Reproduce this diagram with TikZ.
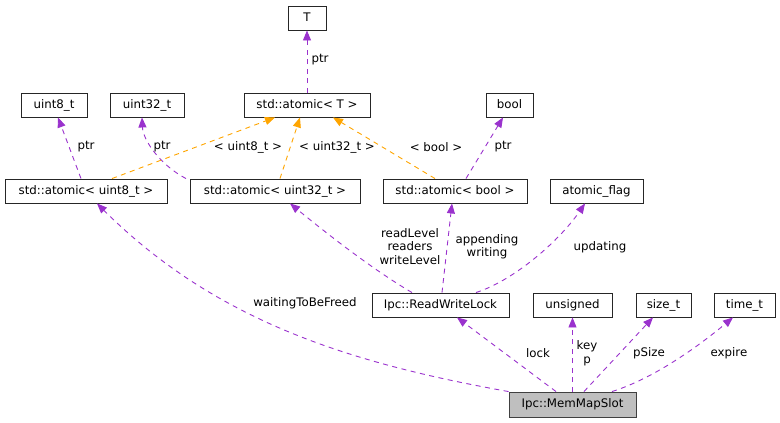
\documentclass[tikz,border=0pt]{standalone}
\usepackage{fontspec}
\setmainfont{DejaVu Sans}
\usetikzlibrary{arrows.meta}
\definecolor{rel}{HTML}{9A32CD}
\definecolor{tmpl}{HTML}{FFA500}
\begin{document}
\begin{tikzpicture}[x=1pt,y=-1pt,
  every node/.style={font=\fontsize{11.8}{13.5}\selectfont},
  box/.style={draw=black!85, line width=0.9pt, rectangle, inner sep=0pt, minimum height=24pt, text height=8.5pt, text depth=2.5pt},
  lbl/.style={inner sep=0pt, align=center},
  relarr/.style={draw=rel, line width=0.9pt, dash pattern=on 5pt off 4.5pt, -{Triangle[length=10pt,width=8pt,fill=rel]}},
  tmparr/.style={draw=tmpl, line width=0.9pt, dash pattern=on 5pt off 4.5pt, -{Triangle[length=10pt,width=8pt,fill=tmpl]}}]
\useasboundingbox (0,0) rectangle (780,423);
% nodes
\node[box, minimum width=38pt] (T) at (307,18) {T};
\node[box, minimum width=126pt] (atomT) at (307,105) {std::atomic< T >};
\node[box, minimum width=66pt] (u8) at (54,105) {uint8\_t};
\node[box, minimum width=74pt] (u32) at (147,105) {uint32\_t};
\node[box, minimum width=47pt] (bool) at (509.5,105) {bool};
\node[box, minimum width=162pt] (atomU8) at (86,191) {std::atomic< uint8\_t >};
\node[box, minimum width=170pt] (atomU32) at (275,191) {std::atomic< uint32\_t >};
\node[box, minimum width=144pt] (atomBool) at (455,191) {std::atomic< bool >};
\node[box, minimum width=93pt] (flag) at (596.5,191) {atomic\_flag};
\node[box, minimum width=137pt] (rwl) at (440.5,305) {Ipc::ReadWriteLock};
\node[box, minimum width=79pt] (uns) at (572.5,305) {unsigned};
\node[box, minimum width=55pt] (sizet) at (663.5,305) {size\_t};
\node[box, minimum width=61pt] (timet) at (744.5,305) {time\_t};
\node[box, minimum width=127pt, minimum height=25pt, fill=black!25, draw=black!75] (slot) at (572.5,404.5) {Ipc::MemMapSlot};
% connectors
\draw[relarr] (atomT.north) -- (T.south);
\draw[relarr] ([xshift=-5pt]atomU8.north) -- ([xshift=4pt]u8.south);
\draw[relarr] ([xshift=-89pt]atomU32.north) .. controls (160,165) and (143,140) .. ([xshift=-5pt]u32.south);
\draw[tmparr] ([xshift=26pt]atomU8.north) -- ([xshift=-32pt]atomT.south);
\draw[tmparr] ([xshift=5pt]atomU32.north) -- ([xshift=-7pt]atomT.south);
\draw[tmparr] ([xshift=-20pt]atomBool.north) -- ([xshift=26pt]atomT.south);
\draw[relarr] ([xshift=11pt]atomBool.north) -- ([xshift=-6.5pt]bool.south);
\draw[relarr] ([xshift=-28.5pt]rwl.north) .. controls (370,268) and (320,228) .. ([xshift=15pt]atomU32.south);
\draw[relarr] ([xshift=1.5pt]rwl.north) -- ([xshift=-3pt]atomBool.south);
\draw[relarr] ([xshift=35.5pt]rwl.north) .. controls (515,280) and (560,240) .. ([xshift=-11.5pt]flag.south);
\draw[relarr] (slot.north west) .. controls (355,364) and (217,323) .. ([xshift=11pt]atomU8.south);
\draw[relarr] ([xshift=-16.5pt]slot.north) -- ([xshift=16.5pt]rwl.south);
\draw[relarr] (slot.north) -- (uns.south);
\draw[relarr] ([xshift=11.5pt]slot.north) -- ([xshift=-10.5pt]sizet.south);
\draw[relarr] ([xshift=39.5pt]slot.north) .. controls (655,378) and (700,345) .. ([xshift=-11.5pt]timet.south);
% labels
\node[lbl] (l1) at (320,60) {ptr};
\node[lbl] (l2) at (86,147) {ptr};
\node[lbl] (l3) at (162,147) {ptr};
\node[lbl] (l4) at (248,147) {< uint8\_t >};
\node[lbl] (l5) at (337,147) {< uint32\_t >};
\node[lbl] (l6) at (436,147) {< bool >};
\node[lbl] (l7) at (503,147) {ptr};
\node[lbl] (l8) at (410,246.5) {readLevel\\readers\\writeLevel};
\node[lbl] (l9) at (487,246.5) {appending\\writing};
\node[lbl] (l10) at (600,247) {updating};
\node[lbl] (l11) at (305,303) {waitingToBeFreed};
\node[lbl] (l12) at (538,353) {lock};
\node[lbl] (l13) at (587,353) {key\\p};
\node[lbl] (l14) at (649,353) {pSize};
\node[lbl] (l15) at (729,353) {expire};
\end{tikzpicture}
\end{document}
